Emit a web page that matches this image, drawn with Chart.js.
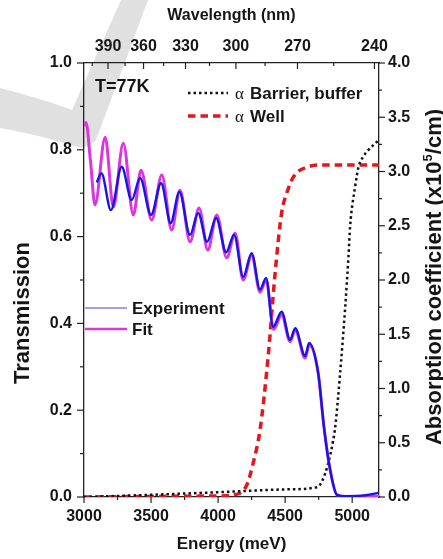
<!DOCTYPE html>
<html>
<head>
<meta charset="utf-8">
<script src="https://cdn.jsdelivr.net/npm/chart.js@4.4.1/dist/chart.umd.min.js"></script>
<style>
  html, body { margin: 0; padding: 0; background: #fff; }
  #wrap { width: 443px; height: 559px; }
</style>
</head>
<body>
<div id="wrap"><canvas id="chart" width="443" height="559"></canvas></div>
<script>
// Transmission at 77 K (experiment + fit) with absorption coefficients of well and barrier
const HC = 1239842; // meV * nm

const fitEnergy = [3000, 3015, 3048, 3082, 3158, 3219, 3293, 3368, 3425, 3505, 3580, 3654, 3716, 3791,
  3858, 3923, 3990, 4064, 4127, 4187, 4250, 4313, 4358, 4415, 4474, 4537, 4575, 4649, 4679, 4746,
  4790, 4836, 4886, 4950, 5200];
const fitT = [0.855, 0.863, 0.775, 0.673, 0.829, 0.668, 0.815, 0.650, 0.753, 0.638, 0.742, 0.615, 0.707, 0.588,
  0.666, 0.569, 0.650, 0.551, 0.608, 0.500, 0.557, 0.472, 0.500, 0.386, 0.420, 0.358, 0.385, 0.320, 0.350, 0.286,
  0.160, 0.062, 0.005, 0.001, 0.002];

const expEnergy = [3095, 3130, 3201, 3281, 3356, 3418, 3500, 3575, 3646, 3711, 3791, 3851, 3918, 3985,
  4060, 4119, 4187, 4250, 4313, 4358, 4410, 4474, 4537, 4575, 4649, 4679, 4746, 4790, 4836, 4886,
  4950, 5100, 5200];
const expT = [0.725, 0.746, 0.661, 0.761, 0.684, 0.735, 0.650, 0.723, 0.631, 0.703, 0.604, 0.654, 0.588, 0.643,
  0.564, 0.604, 0.507, 0.562, 0.478, 0.505, 0.392, 0.427, 0.362, 0.389, 0.325, 0.355, 0.287, 0.160, 0.062, 0.005,
  0.002, 0.004, 0.010];

const wellEnergy = [3000, 3500, 4000, 4120, 4214, 4261, 4313, 4373, 4425, 4474, 4512, 4562, 4662, 4784, 5200];
const wellAlpha = [0.0, 0.005, 0.01, 0.02, 0.11, 0.31, 0.62, 1.29, 2.06, 2.62, 2.80, 2.95, 3.04, 3.06, 3.06];

const barrierEnergy = [3000, 3500, 4112, 4500, 4737, 4773, 4821, 4858, 4875, 4910, 4948, 4972, 4985, 5022,
  5047, 5084, 5122, 5172, 5200];
const barrierAlpha = [0.0, 0.02, 0.05, 0.07, 0.09, 0.14, 0.31, 0.52, 0.66, 1.14, 1.75, 2.21, 2.50, 2.86,
  3.04, 3.14, 3.20, 3.26, 3.29];

const energyTicks = [3000, 3500, 4000, 4500, 5000];
const energyMinor = [3250, 3750, 4250, 4750];
const wavelengthTicks = [390, 360, 330, 300, 270, 240];
const wavelengthMinor = [405, 375, 345, 315, 285, 255];
const transTicks = [0, 0.2, 0.4, 0.6, 0.8, 1.0];
const transMinor = [0.1, 0.3, 0.5, 0.7, 0.9];
const alphaTicks = [0, 0.5, 1.0, 1.5, 2.0, 2.5, 3.0, 3.5, 4.0];
const alphaMinor = [0.25, 0.75, 1.25, 1.75, 2.25, 2.75, 3.25, 3.75];

const FONT = "'Liberation Sans', Arial, sans-serif";
const INK = '#151515';

const pts = (xs, ys) => xs.map((x, i) => ({ x, y: ys[i] }));
const setTicks = list => scale => { scale.ticks = list.map(v => ({ value: v })); };

// white page + faint grey check-mark stamp behind the plot
const background = {
    id: 'background',
    beforeDraw(chart) {
        const ctx = chart.ctx;
        ctx.save();
        ctx.fillStyle = '#fff';
        ctx.fillRect(0, 0, chart.width, chart.height);
        ctx.fillStyle = '#e0e0e0';
        ctx.beginPath();
        ctx.moveTo(0, 88);
        ctx.quadraticCurveTo(40, 98, 72, 110);
        ctx.lineTo(121, 0);
        ctx.lineTo(148, 0);
        ctx.lineTo(96, 140);
        ctx.quadraticCurveTo(88, 150, 74, 146);
        ctx.quadraticCurveTo(35, 134, 0, 128);
        ctx.closePath();
        ctx.fill();
        ctx.restore();
    }
};

// tick marks (major + minor), rotated axis titles and the two legends
const decorations = {
    id: 'decorations',
    afterDraw(chart) {
        const { ctx, chartArea: a, scales } = chart;
        ctx.save();
        ctx.strokeStyle = '#222';
        ctx.lineWidth = 1.2;
        const seg = (x1, y1, x2, y2) => {
            ctx.beginPath(); ctx.moveTo(x1, y1); ctx.lineTo(x2, y2); ctx.stroke();
        };
        energyTicks.forEach(v => { const x = scales.x.getPixelForValue(v); seg(x, a.bottom, x, a.bottom + 6); });
        energyMinor.forEach(v => { const x = scales.x.getPixelForValue(v); seg(x, a.bottom, x, a.bottom + 3); });
        wavelengthTicks.forEach(l => { const x = scales.x2.getPixelForValue(HC / l); seg(x, a.top, x, a.top + 6); });
        wavelengthMinor.forEach(l => { const x = scales.x2.getPixelForValue(HC / l); seg(x, a.top, x, a.top + 3); });
        transTicks.forEach(v => { const y = scales.y.getPixelForValue(v); seg(a.left - 7, y, a.left, y); });
        transMinor.forEach(v => { const y = scales.y.getPixelForValue(v); seg(a.left - 4, y, a.left, y); });
        alphaTicks.forEach(v => { const y = scales.y1.getPixelForValue(v); seg(a.right, y, a.right + 6, y); });
        alphaMinor.forEach(v => { const y = scales.y1.getPixelForValue(v); seg(a.right, y, a.right + 3, y); });

        ctx.fillStyle = INK;
        ctx.textBaseline = 'middle';
        ctx.textAlign = 'center';

        // left title
        ctx.save();
        ctx.translate(23, 313);
        ctx.rotate(-Math.PI / 2);
        ctx.font = `bold 22px ${FONT}`;
        ctx.fillText('Transmission', 0, 0);
        ctx.restore();

        // right title with superscript exponent
        ctx.save();
        ctx.translate(435, 277);
        ctx.rotate(-Math.PI / 2);
        ctx.textAlign = 'left';
        const head = 'Absorption coefficient (x10', tail = '/cm)';
        ctx.font = `bold 22px ${FONT}`;
        const wHead = ctx.measureText(head).width, wTail = ctx.measureText(tail).width;
        ctx.font = `bold 13px ${FONT}`;
        const wSup = ctx.measureText('5').width;
        let x = -(wHead + wSup + wTail) / 2;
        ctx.font = `bold 22px ${FONT}`;
        ctx.fillText(head, x, 0);
        x += wHead;
        ctx.font = `bold 13px ${FONT}`;
        ctx.fillText('5', x, -7);
        x += wSup;
        ctx.font = `bold 22px ${FONT}`;
        ctx.fillText(tail, x, 0);
        ctx.restore();

        // labels inside the plot
        ctx.textAlign = 'left';
        ctx.font = `bold 18px ${FONT}`;
        ctx.fillText('T=77K', 95, 87);

        ctx.lineWidth = 2.5;
        ctx.strokeStyle = '#111';
        ctx.setLineDash([2.5, 3]);
        seg(188, 93, 228, 93);
        ctx.strokeStyle = '#e3161d';
        ctx.lineWidth = 3.5;
        ctx.setLineDash([7.5, 5]);
        seg(188, 116, 228, 116);
        ctx.setLineDash([]);

        ctx.font = `17px 'Liberation Serif', 'DejaVu Serif', serif`;
        ctx.fillText('\u03b1', 235, 95);
        ctx.fillText('\u03b1', 235, 118);
        ctx.font = `bold 17px ${FONT}`;
        ctx.fillText('Barrier, buffer', 250, 94);
        ctx.fillText('Well', 250, 117);

        ctx.strokeStyle = '#8080ea';
        ctx.lineWidth = 1.5;
        seg(85, 308, 127, 308);
        ctx.strokeStyle = '#d83ad8';
        ctx.lineWidth = 2.5;
        seg(85, 329, 127, 329);
        ctx.fillText('Experiment', 132, 309);
        ctx.fillText('Fit', 132, 330);
        ctx.restore();
    }
};

const tickFont = { family: FONT, size: 16, weight: 'bold' };
const noGrid = { display: false, drawTicks: false };
const axisBorder = { display: true, color: '#222', width: 1.3 };

new Chart(document.getElementById('chart'), {
    type: 'line',
    data: {
        datasets: [
            {
                label: 'Experiment',
                data: pts(expEnergy, expT),
                borderColor: '#1616e0',
                borderWidth: 2.4,
                yAxisID: 'y'
            },
            {
                label: 'Fit',
                data: pts(fitEnergy, fitT),
                borderColor: '#d936e0',
                borderWidth: 3,
                yAxisID: 'y'
            },
            {
                label: '\u03b1 Barrier, buffer',
                data: pts(barrierEnergy, barrierAlpha),
                borderColor: '#111',
                borderWidth: 2.5,
                borderDash: [2.5, 3],
                yAxisID: 'y1'
            },
            {
                label: '\u03b1 Well',
                data: pts(wellEnergy, wellAlpha),
                borderColor: '#e3161d',
                borderWidth: 3.5,
                borderDash: [7.5, 5],
                yAxisID: 'y1'
            }
        ]
    },
    options: {
        responsive: false,
        animation: false,
        layout: { padding: 0 },
        elements: {
            point: { radius: 0 },
            line: { cubicInterpolationMode: 'monotone', fill: false }
        },
        scales: {
            x: {
                type: 'linear',
                position: 'bottom',
                min: 3000,
                max: 5200,
                afterBuildTicks: setTicks(energyTicks),
                afterFit: s => { s.height = 62; },
                ticks: { font: tickFont, color: INK, padding: 10, maxRotation: 0, autoSkip: false, callback: v => String(v) },
                grid: noGrid,
                border: axisBorder,
                title: { display: true, text: 'Energy (meV)', color: INK, font: { family: FONT, size: 17, weight: 'bold' }, padding: { top: 0, bottom: 4 } }
            },
            x2: {
                type: 'linear',
                position: 'top',
                min: 3000,
                max: 5200,
                afterBuildTicks: setTicks(wavelengthTicks.map(l => HC / l)),
                afterFit: s => { s.height = 63; },
                ticks: {
                    font: tickFont, color: INK, padding: 7, maxRotation: 0, autoSkip: false,
                    callback: v => String(Math.round(HC / v))
                },
                grid: noGrid,
                border: axisBorder,
                title: { display: true, text: 'Wavelength (nm)', color: INK, font: { family: FONT, size: 16, weight: 'bold' }, padding: { top: 6, bottom: 0 } }
            },
            y: {
                type: 'linear',
                position: 'left',
                min: 0,
                max: 1,
                afterBuildTicks: setTicks(transTicks),
                afterFit: s => { s.width = 84; },
                ticks: { font: tickFont, color: INK, padding: 12, callback: v => v.toFixed(1) },
                grid: noGrid,
                border: axisBorder
            },
            y1: {
                type: 'linear',
                position: 'right',
                min: 0,
                max: 4,
                afterBuildTicks: setTicks(alphaTicks),
                afterFit: s => { s.width = 64; },
                ticks: { font: tickFont, color: INK, padding: 9, callback: v => v.toFixed(1) },
                grid: noGrid,
                border: axisBorder
            }
        },
        plugins: {
            legend: { display: false },
            tooltip: { enabled: false }
        }
    },
    plugins: [background, decorations]
});
</script>
</body>
</html>
